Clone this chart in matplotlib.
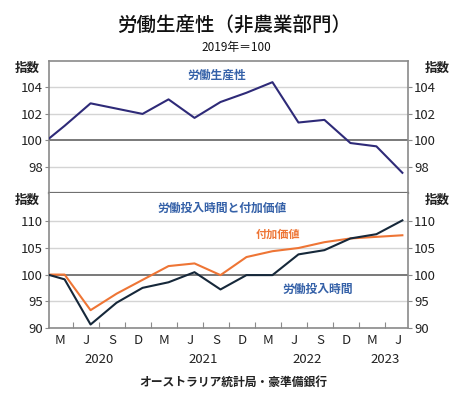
import numpy as np
import matplotlib
matplotlib.use('Agg')
import matplotlib.pyplot as plt

plt.rcParams['font.family'] = ['Noto Sans CJK JP', 'DejaVu Sans']

# Quarterly data, Dec 2019 .. Jun 2023 (2019 = 100)
quarters = ['D19', 'M20', 'J20', 'S20', 'D20', 'M21', 'J21', 'S21', 'D21',
            'M22', 'J22', 'S22', 'D22', 'M23', 'J23']
productivity = [99.5, 101.1, 102.8, 102.4, 102.0, 103.1, 101.7, 102.9, 103.6,
                104.4, 101.35, 101.55, 99.8, 99.55, 97.55]
value_added = [100.0, 100.0, 93.3, 96.4, 99.0, 101.6, 102.1, 99.9, 103.3,
               104.4, 105.0, 106.1, 106.8, 107.1, 107.4]
hours_worked = [100.5, 99.1, 90.6, 94.7, 97.5, 98.55, 100.45, 97.2, 99.9,
                99.9, 103.8, 104.6, 106.8, 107.6, 110.2]

month_labels = ['M', 'J', 'S', 'D', 'M', 'J', 'S', 'D', 'M', 'J', 'S', 'D', 'M', 'J']
year_labels = ['2020', '2021', '2022', '2023']
year_pos = [6, 18, 30, 39]

# x in months from Jan 2020; quarter points sit at the start of the last month
x = np.arange(len(quarters)) * 3 - 1

BLUE_TXT = '#3561a8'
NAVY = '#2e2a78'
DARK = '#16283a'
ORANGE = '#ee7535'
GRID = '#d4d4d4'
SPINE = '#8a8a8a'

fig = plt.figure(figsize=(4.65, 3.99), dpi=100)
W, H = 465, 399
left, right = 49 / W, 408 / W
ax1 = fig.add_axes([left, 1 - 193.3 / H, right - left, (193.3 - 61) / H])
ax2 = fig.add_axes([left, 1 - 327.7 / H, right - left, (327.7 - 193.3) / H])


def style(ax, ticks, ylim):
    ax.set_xlim(0.2, 41.65)
    ax.set_ylim(*ylim)
    ax.set_yticks(ticks)
    for t in ticks:
        if t == 100:
            ax.axhline(t, color='#6e6e6e', lw=1.3, zorder=1)
        else:
            ax.axhline(t, color=GRID, lw=1.0, zorder=1)
    for s in ax.spines.values():
        s.set_color(SPINE)
        s.set_linewidth(1.2)
    ax.tick_params(axis='y', which='both', left=True, right=True,
                   labelleft=True, labelright=True, direction='out',
                   length=3, color=SPINE, labelsize=9.5, pad=1.5,
                   labelcolor='#222222')


style(ax1, [98, 100, 102, 104], (96, 106))
style(ax2, [90, 95, 100, 105, 110], (90, 115.3))
ax1.spines['bottom'].set_linewidth(1.6)
ax1.spines['bottom'].set_color('#707070')
ax2.spines['top'].set_visible(False)

ax1.plot(x, productivity, color=NAVY, lw=1.5, zorder=3)
ax2.plot(x, value_added, color=ORANGE, lw=1.5, zorder=3)
ax2.plot(x, hours_worked, color=DARK, lw=1.5, zorder=4)

ax1.set_xticks([])
ax2.set_xticks(np.arange(3, 40, 3))
ax2.tick_params(axis='x', direction='in', length=4, color=SPINE,
                labelbottom=False)

for i, lab in enumerate(month_labels):
    ax2.text(1.5 + 3 * i, -0.05, lab, transform=ax2.get_xaxis_transform(),
             ha='center', va='top', fontsize=9.5, color='#222222')
for yr, p in zip(year_labels, year_pos):
    ax2.text(p, -0.19, yr, transform=ax2.get_xaxis_transform(),
             ha='center', va='top', fontsize=9.5, color='#222222')

# series labels
fig.text(217 / W, 1 - 75 / H, '労働生産性', ha='center', va='center',
         fontsize=8.5, color=BLUE_TXT, fontweight='bold')
fig.text(222 / W, 1 - 208 / H, '労働投入時間と付加価値', ha='center', va='center',
         fontsize=8.5, color=BLUE_TXT, fontweight='bold')
fig.text(278 / W, 1 - 234 / H, '付加価値', ha='center', va='center',
         fontsize=8, color=ORANGE, fontweight='bold')
fig.text(318 / W, 1 - 289 / H, '労働投入時間', ha='center', va='center',
         fontsize=8.5, color=BLUE_TXT, fontweight='bold')

# unit labels
for yy in (68, 200):
    fig.text(27 / W, 1 - yy / H, '指数', ha='center', va='center',
             fontsize=9, fontweight='bold', color='#222222')
    fig.text(437 / W, 1 - yy / H, '指数', ha='center', va='center',
             fontsize=9, fontweight='bold', color='#222222')

fig.text(234 / W, 1 - 25 / H, '労働生産性（非農業部門）', ha='center', va='center',
         fontsize=14, fontweight='medium', color='#111111')
fig.text(236 / W, 1 - 47 / H, '2019年＝100', ha='center', va='center',
         fontsize=8.5, color='#111111')
fig.text(233 / W, 1 - 382 / H, 'オーストラリア統計局・豪準備銀行', ha='center',
         va='center', fontsize=8.5, fontweight='bold', color='#222222')

fig.savefig('out.png', dpi=100)
